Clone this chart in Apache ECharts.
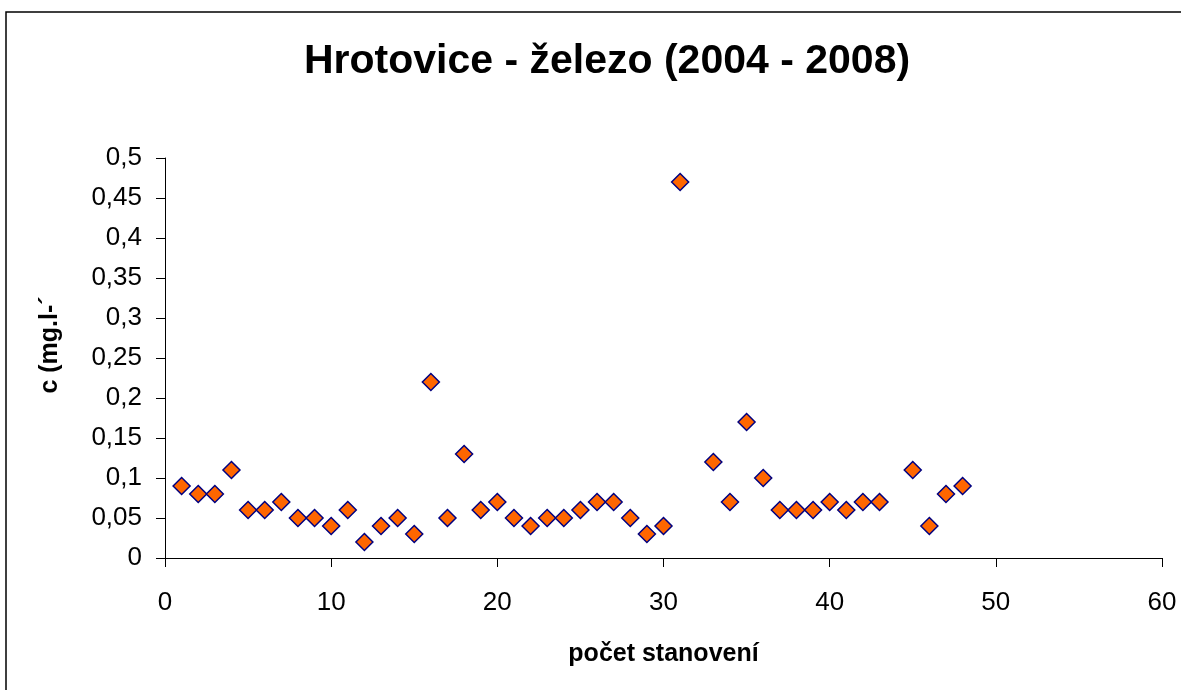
<!DOCTYPE html>
<html>
<head>
<meta charset="utf-8">
<script src="https://cdn.jsdelivr.net/npm/echarts@6/dist/echarts.min.js"></script>
<style>
  html, body { margin: 0; padding: 0; background: #fff; }
  #chart { width: 1181px; height: 690px; }
</style>
</head>
<body>
<div id="chart"></div>
<script>
// measurements (number of the determination, iron concentration)
var xValues = [1, 2, 3, 4, 5, 6, 7, 8, 9, 10, 11, 12, 13, 14, 15, 16, 17, 18, 19, 20,
  21, 22, 23, 24, 25, 26, 27, 28, 29, 30, 31, 33, 34, 35, 36, 37, 38, 39, 40,
  41, 42, 43, 45, 46, 47, 48];
var yValues = [0.09, 0.08, 0.08, 0.11, 0.06, 0.06, 0.07, 0.05, 0.05, 0.04, 0.06, 0.02, 0.04, 0.05, 0.03, 0.22, 0.05, 0.13, 0.06, 0.07,
  0.05, 0.04, 0.05, 0.05, 0.06, 0.07, 0.07, 0.05, 0.03, 0.04, 0.47, 0.12, 0.07, 0.17, 0.10, 0.06, 0.06, 0.06, 0.07,
  0.06, 0.07, 0.07, 0.11, 0.04, 0.08, 0.09];

var titleText = 'Hrotovice - železo (2004 - 2008)';
var xName = 'počet stanovení';
var yName = 'c (mg.l-´';

var points = xValues.map(function (x, i) { return [x, yValues[i]]; });

function commaNum(v) {
  return String(Math.round(v * 100) / 100).replace('.', ',');
}

var chart = echarts.init(document.getElementById('chart'));

var axisLine = { show: true, lineStyle: { color: '#000', width: 1 } };
var axisTick = { show: true, length: 9, lineStyle: { color: '#000', width: 1 } };
var labelFont = { fontFamily: 'Liberation Sans', fontSize: 26, color: '#000' };

chart.setOption({
  animation: false,
  backgroundColor: '#fff',
  title: {
    text: titleText,
    left: 299,
    top: 36,
    textStyle: {
      fontFamily: 'Liberation Sans',
      fontWeight: 'bold',
      fontSize: 41,
      color: '#000'
    }
  },
  graphic: [{
    type: 'rect',
    shape: { x: 6, y: 12, width: 1200, height: 700 },
    style: { fill: 'none', stroke: '#000', lineWidth: 1.5 },
    silent: true
  }, {
    type: 'text',
    left: 38,
    top: 'middle',
    rotation: Math.PI / 2,
    style: {
      text: yName,
      fontFamily: 'Liberation Sans',
      fontWeight: 'bold',
      fontSize: 25,
      fill: '#000'
    }
  }],
  grid: { left: 165, right: 19, top: 158, bottom: 132 },
  xAxis: {
    type: 'value',
    min: 0,
    max: 60,
    interval: 10,
    name: xName,
    nameLocation: 'middle',
    nameGap: 84,
    nameTextStyle: { fontFamily: 'Liberation Sans', fontWeight: 'bold', fontSize: 25, color: '#000' },
    axisLine: axisLine,
    axisTick: axisTick,
    splitLine: { show: false },
    axisLabel: Object.assign({ margin: 32 }, labelFont)
  },
  yAxis: {
    type: 'value',
    min: 0,
    max: 0.5,
    interval: 0.05,
    axisLine: axisLine,
    axisTick: axisTick,
    splitLine: { show: false },
    axisLabel: Object.assign({ margin: 23, formatter: commaNum }, labelFont)
  },
  series: [{
    type: 'scatter',
    data: points,
    symbol: 'diamond',
    symbolSize: 17,
    itemStyle: { color: '#FF6600', borderColor: '#000080', borderWidth: 1.5, opacity: 1 }
  }]
});
</script>
</body>
</html>
